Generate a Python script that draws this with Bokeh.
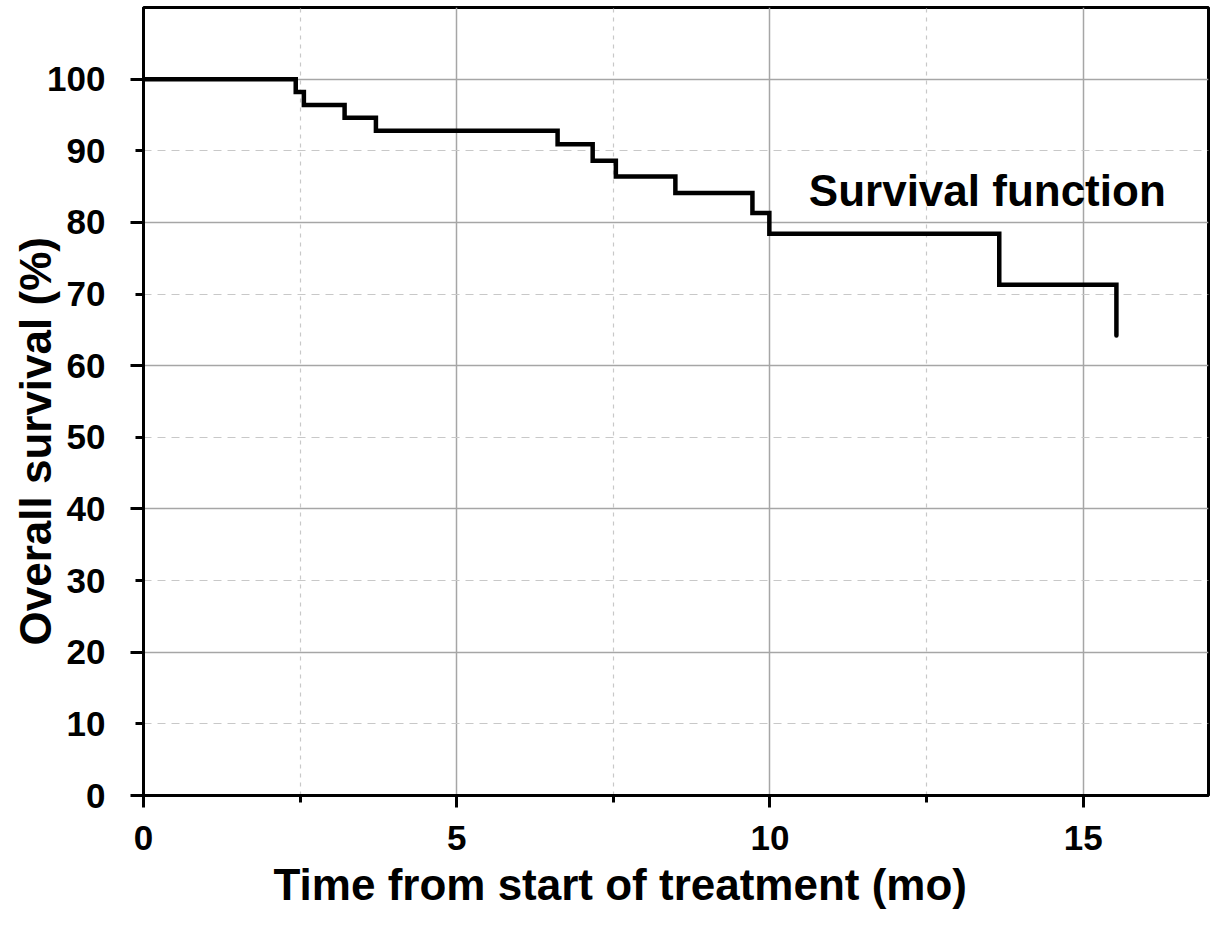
from bokeh.plotting import figure
from bokeh.models import FixedTicker, Range1d, Label, Title
from bokeh.embed import file_html
from bokeh.resources import INLINE

# Kaplan-Meier survival function
time_mo = [0, 2.43, 2.56, 3.21, 3.71, 6.61, 7.17, 7.54, 8.49, 9.72, 9.99, 13.66, 15.53]
survival_pct = [100, 98.2, 96.4, 94.6, 92.8, 90.9, 88.6, 86.4, 84.1, 81.3, 78.4, 71.3, 64.2]

x_major_ticks = [0, 5, 10, 15]
x_minor_ticks = [2.5, 7.5, 12.5]
y_label_ticks = [0, 10, 20, 30, 40, 50, 60, 70, 80, 90, 100]
y_grid_major = [0, 20, 40, 60, 80, 100]
y_grid_minor = [10, 30, 50, 70, 90]

x_title = "Time from start of treatment (mo)"
y_title = "Overall survival (%)"
annotation = "Survival function"

FONT = "Liberation Sans"

p = figure(width=1211, height=936, output_backend="svg", toolbar_location=None,
           x_range=Range1d(0, 17), y_range=Range1d(0, 110),
           min_border_left=143, min_border_right=3, min_border_top=7, min_border_bottom=141)
p.background_fill_color = "white"
p.border_fill_color = "white"
p.outline_line_color = "black"
p.outline_line_width = 3

# Axes
p.xaxis.ticker = FixedTicker(ticks=x_major_ticks, minor_ticks=x_minor_ticks)
# every 10 is labelled; every 20 gets the longer tick (drawn as minor ticks)
p.yaxis.ticker = FixedTicker(ticks=y_label_ticks, minor_ticks=y_grid_major)
for ax in (p.xaxis, p.yaxis):
    ax.axis_line_color = "black"
    ax.axis_line_width = 3
    ax.major_tick_line_color = "black"
    ax.major_tick_line_width = 3
    ax.minor_tick_line_color = "black"
    ax.minor_tick_line_width = 3
    ax.major_tick_in = 0
    ax.minor_tick_in = 0
    ax.major_label_text_font = FONT
    ax.major_label_text_font_style = "bold"
    ax.major_label_text_font_size = "35px"
    ax.major_label_text_color = "black"
p.xaxis.major_tick_out = 12
p.xaxis.minor_tick_out = 7
p.yaxis.major_tick_out = 8
p.yaxis.minor_tick_out = 13
p.xaxis.major_label_standoff = 18
p.yaxis.major_label_standoff = 25

# Grids
p.xgrid.ticker = FixedTicker(ticks=x_major_ticks, minor_ticks=x_minor_ticks)
p.xgrid.grid_line_color = "#a6a6a6"
p.xgrid.grid_line_width = 1.5
p.xgrid.minor_grid_line_color = "#c8c8c8"
p.xgrid.minor_grid_line_dash = "4 5"
p.xgrid.minor_grid_line_width = 1.2

p.ygrid.ticker = FixedTicker(ticks=y_grid_major, minor_ticks=y_grid_minor)
p.ygrid.grid_line_color = "#a6a6a6"
p.ygrid.grid_line_width = 1.5
p.ygrid.minor_grid_line_color = "#c8c8c8"
p.ygrid.minor_grid_line_dash = "8 6"
p.ygrid.minor_grid_line_width = 1.2

# Survival step line
p.step(time_mo, survival_pct, mode="after", line_color="black", line_width=4.5,
       line_join="miter", line_cap="round")

p.add_layout(Label(x=10.62, y=84.5, text=annotation, text_font=FONT,
                   text_font_style="bold", text_font_size="44px", text_color="black",
                   text_baseline="middle", text_align="left"))

# Axis titles as side-panel titles so they can be offset like the reference
xt = Title(text=x_title, align="left", offset=130, standoff=14, vertical_align="top",
           text_font=FONT, text_font_style="bold", text_font_size="44px", text_color="black")
p.add_layout(xt, "below")
yt = Title(text=y_title, align="left", offset=150, standoff=-30, vertical_align="bottom",
           text_font=FONT, text_font_style="bold", text_font_size="44px", text_color="black")
p.add_layout(yt, "left")

open("out.html", "w").write(file_html(p, INLINE))
